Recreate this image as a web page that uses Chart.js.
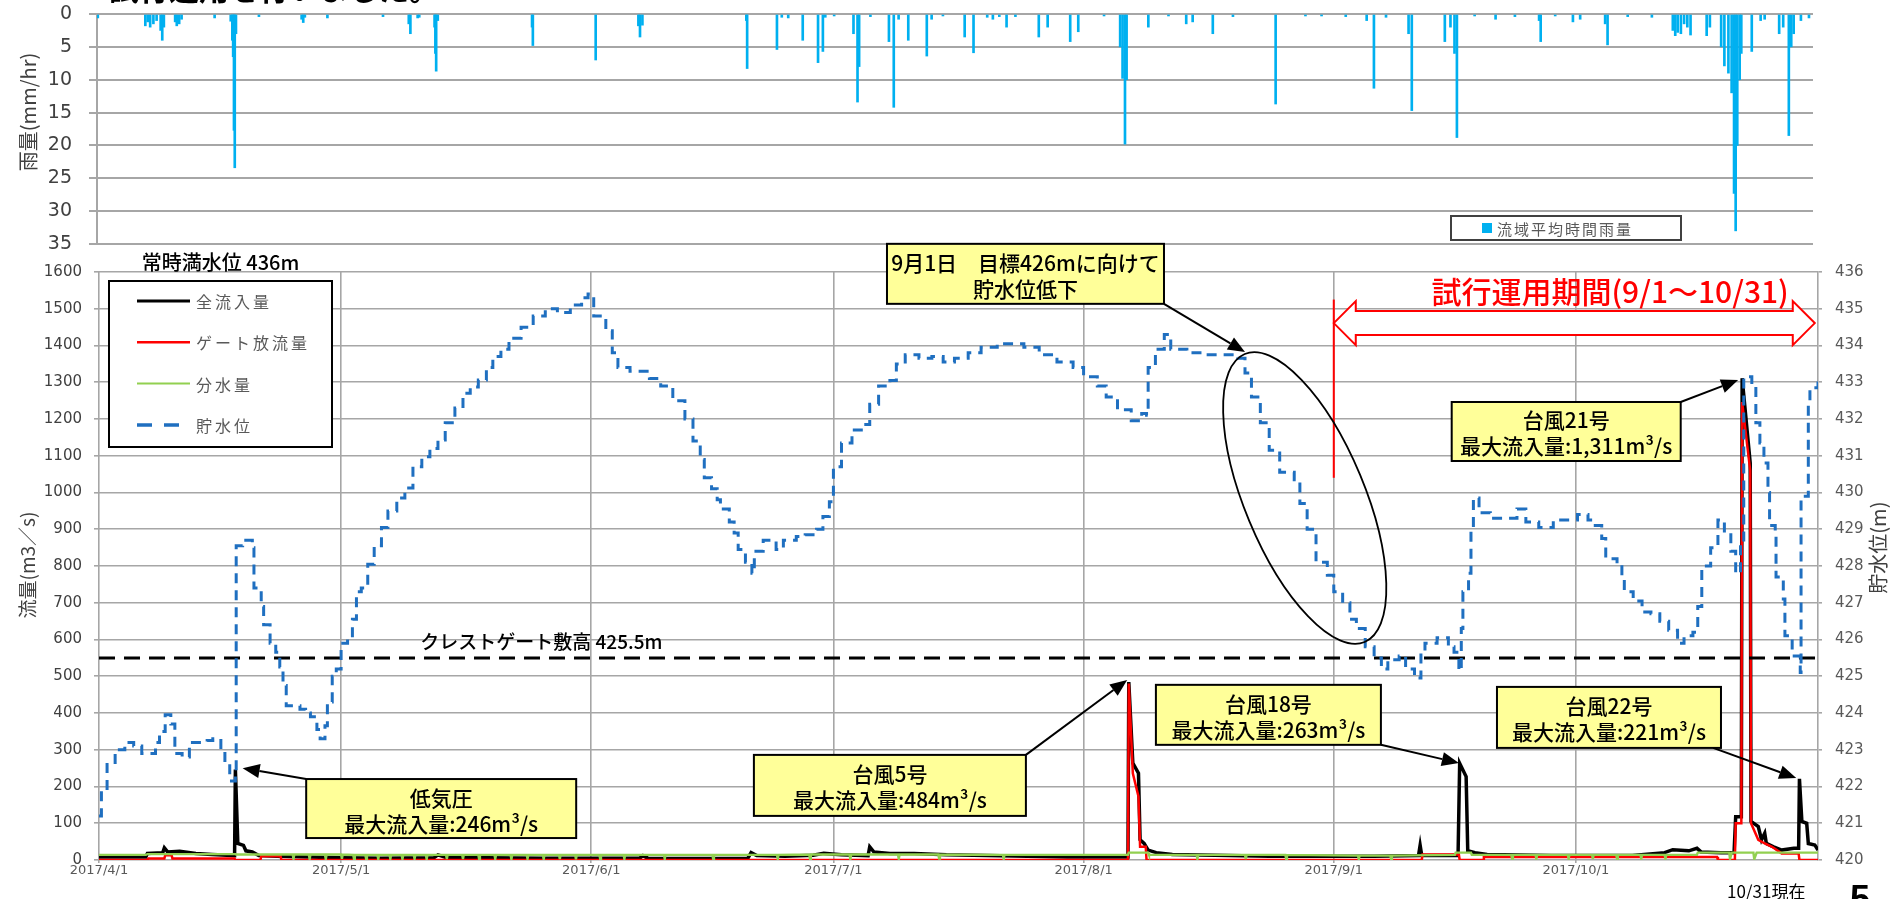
<!DOCTYPE html>
<html lang="ja">
<head>
<meta charset="UTF-8">
<title>流量・貯水位・雨量</title>
<script src="https://cdn.jsdelivr.net/npm/chart.js"></script>
<style>
    html, body { margin: 0; padding: 0; background: #fff; width: 1901px; height: 899px; overflow: hidden; }
    #rain { position: absolute; left: 0; top: 0; }
    #flow { position: absolute; left: 0; top: 200px; }
</style>
</head>
<body>
<canvas id="rain" width="1901" height="262"></canvas>
<canvas id="flow" width="1901" height="699"></canvas>
<script>
// x = days since 2017/4/1 (0) up to 2017/10/31 (213)
const monthDays = [0, 30, 61, 91, 122, 153, 183];
const monthLabels = ['2017/4/1', '2017/5/1', '2017/6/1', '2017/7/1', '2017/8/1', '2017/9/1', '2017/10/1'];
const lastDay = 213;

// 流域平均時間雨量 (mm/hr)
const rainDays = [0.1, 6.0, 6.3, 6.6, 7.0, 7.4, 7.9, 8.1, 8.3, 9.7, 9.9, 10.2, 10.5, 14.6,
    16.6, 16.8, 16.9, 17.0, 17.1, 17.25, 20.1, 25.4, 25.6, 25.8, 28.6, 35.5, 38.7, 38.9, 39.8, 40.0,
    41.9, 42.0, 42.1, 42.3, 54.0, 54.1, 61.9, 67.2, 67.4, 67.7, 80.6, 80.7, 84.4, 85.0, 85.8, 87.6,
    89.5, 90.1, 90.4, 91.5, 93.9, 94.4, 94.6, 96.0, 98.3, 98.9, 99.5, 100.7, 103.0, 103.6, 105.0,
    107.7, 108.8, 110.5, 111.2, 112.0, 112.9, 114.0, 116.9, 118.0, 120.8, 121.8, 125.0,
    127.0, 127.3, 127.6, 127.8, 130.5, 133.0, 135.2, 136.0, 138.5, 141.0, 146.3, 150.0, 152.0, 155.0,
    157.6, 158.5, 160.0, 162.8, 163.2, 167.3, 168.0, 168.5, 168.8, 171.0, 173.6, 176.0, 179.0, 179.2,
    181.0, 183.2, 184.1, 187.2, 187.5, 190.0, 193.0, 195.6, 195.9, 196.2, 196.6, 197.0, 197.4, 197.8,
    199.8, 200.2, 201.6, 202.0, 202.5, 202.9, 203.2, 203.4, 203.6, 203.9, 204.1, 205.4, 206.5, 207.0,
    208.8, 209.3, 210.0, 210.3, 210.6, 211.5, 212.5];
const rainMm = [0.6, 1.8, 1.2, 2.0, 1.5, 1.0, 2.5, 4.0, 2.0, 1.2, 1.8, 1.5, 0.8, 0.6,
    1.1, 4.0, 6.5, 17.7, 23.4, 3.0, 0.4, 0.8, 1.3, 0.5, 0.6, 0.4, 1.5, 3.0, 0.6, 0.5,
    2.0, 6.0, 8.7, 1.0, 2.0, 4.8, 7.0, 1.8, 3.5, 1.7, 1.0, 8.3, 5.4, 0.5, 0.6, 4.0,
    7.4, 5.7, 0.5, 0.3, 3.0, 13.4, 8.0, 0.4, 4.2, 14.2, 0.8, 4.0, 6.4, 0.8, 0.3,
    3.5, 5.9, 0.5, 0.8, 0.4, 2.0, 0.4, 3.5, 2.0, 4.2, 2.7, 0.3,
    5.0, 9.8, 19.8, 10.0, 2.0, 0.3, 1.5, 1.2, 3.0, 0.4, 13.7, 0.3, 0.3, 0.4,
    1.0, 11.3, 0.5, 3.0, 14.7, 4.2, 2.0, 6.0, 18.8, 0.3, 0.8, 0.4, 1.0, 4.2,
    0.3, 1.2, 0.8, 1.5, 4.7, 0.4, 0.5, 2.5, 3.3, 2.8, 3.0, 1.5, 2.0, 3.2,
    3.3, 2.0, 5.0, 7.9, 9.0, 12.0, 27.3, 33.0, 20.0, 10.0, 6.0, 5.7, 1.0, 0.8,
    3.0, 2.0, 18.5, 5.0, 3.0, 1.0, 0.6];

// 全流入量 (m3/s)
const inflowDays = [0, 5.8, 6.0, 7.9, 8.1, 8.5, 10.0, 12.0, 14.0, 16.8, 16.9, 17.2, 17.9, 18.2, 19.0, 19.8,
    22.0, 26.0, 30.0, 35.0, 41.5, 42.0, 43.0, 48.0, 55.0, 67.0, 67.4, 68.0, 75.0, 80.4, 80.8, 81.5,
    85.0, 88.5, 89.8, 92.0, 95.3, 95.5, 96.0, 98.0, 101.0, 105.0, 110.0, 115.0, 120.0, 127.5,
    127.6, 128.1, 128.8, 129.0, 129.5, 130.0, 131.0, 133.0, 140.0, 145.0, 153.0, 158.0, 163.5, 163.7,
    163.9, 168.4, 168.6, 169.4, 169.6, 170.5, 172.0, 180.0, 190.0, 194.0, 195.0, 197.0, 198.0, 198.5,
    201.0, 202.6, 202.8, 203.5, 203.6, 204.6, 204.7, 205.6, 206.0, 206.4, 206.6, 207.5, 208.5, 210.0,
    210.6, 210.7, 211.0, 211.6, 211.8, 212.6, 213.0];
const inflowValues = [8, 8, 18, 20, 33, 22, 24, 18, 15, 12, 246, 45, 40, 25, 22, 12,
    10, 8, 6, 5, 6, 14, 7, 6, 5, 5, 12, 5, 4, 5, 20, 12,
    10, 13, 18, 14, 12, 36, 22, 18, 18, 14, 12, 10, 8, 8,
    484, 264, 236, 55, 45, 27, 20, 15, 12, 10, 10, 10, 12, 40,
    12, 12, 263, 227, 25, 20, 15, 12, 12, 20, 28, 25, 32, 22,
    20, 20, 118, 118, 1311, 1080, 105, 91, 55, 73, 45, 36, 27, 32,
    32, 221, 105, 100, 45, 41, 27];

// ゲート放流量 (m3/s)
const releaseDays = [0, 6.0, 6.1, 8.1, 8.2, 9.0, 9.1, 16.8, 16.9, 20.0, 20.1, 22.5, 22.6, 127.5,
    127.6, 128.1, 128.8, 129.0, 129.7, 129.8, 163.9, 164.0, 168.5, 168.6, 171.5, 171.6, 200.5, 200.6,
    202.7, 202.8, 203.5, 203.6, 204.6, 204.7, 205.6, 206.4, 207.3, 208.5, 210.6, 210.7, 213.0];
const releaseValues = [0, 0, 4, 4, 13, 13, 4, 4, 0, 0, 10, 10, 0, 0,
    480, 236, 173, 36, 36, 0, 0, 15, 15, 0, 0, 8, 8, 0,
    0, 100, 100, 1246, 1060, 100, 55, 45, 36, 18, 18, 0, 0];

// 分水量 (m3/s)
const diversionDays = [0, 5.8, 6.0, 16.9, 17.0, 24.0, 24.1, 24.2, 26.0, 26.1, 26.2, 28.0, 28.1, 28.2,
    30.0, 30.1, 30.2, 31.5, 31.6, 31.7, 33.0, 33.1, 33.2, 34.5, 34.6, 34.7, 36.0, 36.1, 36.2,
    37.5, 37.6, 37.7, 39.0, 39.1, 39.2, 40.5, 40.6, 40.7, 43.0, 43.1, 43.2, 45.0, 45.1, 45.2,
    47.0, 47.1, 47.2, 49.0, 49.1, 49.2, 51.0, 51.1, 51.2, 53.0, 53.1, 53.2, 55.0, 55.1, 55.2,
    57.0, 57.1, 57.2, 59.0, 59.1, 59.2, 62.0, 62.1, 62.2, 65.0, 65.1, 65.2, 70.0, 70.1, 70.2,
    76.0, 76.1, 76.2, 84.0, 84.1, 84.2, 88.0, 88.1, 88.2, 93.0, 93.1, 93.2, 99.0, 99.1, 99.2,
    104.0, 104.1, 104.2, 112.0, 112.1, 112.2, 118.0, 127.5, 127.6, 130.0, 130.1, 136.0, 136.1, 136.2,
    142.0, 142.1, 142.2, 147.0, 147.1, 147.2, 156.0, 156.1, 156.2, 160.0, 160.1, 160.2, 168.0, 168.1,
    170.0, 170.1, 175.0, 175.1, 175.2, 178.0, 178.1, 178.2, 182.0, 182.1, 182.2, 185.0, 185.1, 185.2,
    188.0, 188.1, 188.2, 191.0, 191.1, 191.2, 194.0, 194.1, 194.2, 198.0, 198.1, 202.0, 202.1, 202.3,
    205.0, 205.1, 205.4, 213.0];
const diversionValues = [14, 14, 16, 16, 15, 15, 3, 15, 15, 2, 15, 15, 2, 15,
    15, 3, 15, 14, 2, 14, 14, 3, 14, 14, 2, 14, 14, 3, 14,
    14, 2, 14, 14, 3, 14, 14, 2, 14, 14, 3, 14, 14, 3, 14,
    14, 2, 14, 14, 3, 14, 14, 2, 14, 14, 3, 14, 14, 2, 14,
    14, 3, 14, 14, 2, 14, 14, 3, 14, 14, 3, 14, 14, 3, 14,
    14, 3, 14, 14, 3, 14, 15, 3, 15, 15, 2, 15, 15, 3, 15,
    15, 4, 15, 14, 3, 14, 14, 14, 20, 20, 14, 14, 3, 14,
    14, 3, 14, 14, 3, 14, 12, 2, 12, 12, 3, 12, 14, 20,
    20, 14, 14, 3, 14, 14, 3, 14, 14, 3, 14, 14, 3, 14,
    14, 3, 14, 14, 3, 14, 14, 3, 14, 14, 20, 20, 2, 20,
    20, 2, 20, 20];

// 貯水位 (m)
const levelDays = [0.0, 0.3, 1.0, 2.0, 3.2, 4.3, 5.3, 6.1, 7.0, 7.5, 8.2, 8.9, 9.4, 10.3, 11.2, 12.3,
    13.4, 14.1, 15.1, 15.6, 16.2, 16.9, 17.0, 17.8, 19.0, 19.2, 20.1, 20.4, 21.2, 21.9, 22.4, 22.8,
    23.2, 24.9, 25.6, 26.2, 27.0, 27.4, 28.0, 28.3, 28.9, 29.4, 30.0, 30.8, 31.4, 31.9, 32.5, 33.3,
    34.1, 35.0, 35.8, 36.9, 37.9, 38.9, 40.0, 41.0, 42.0, 42.9, 44.1, 45.1, 46.0, 47.0, 48.0, 48.8,
    49.8, 50.8, 52.3, 53.8, 55.3, 56.8, 58.4, 59.8, 60.6, 61.3, 62.8, 63.6, 64.3, 65.8, 68.2, 69.6,
    71.1, 72.6, 73.6, 74.5, 75.0, 75.9, 76.6, 77.0, 78.1, 78.7, 79.2, 80.1, 80.9, 81.2, 82.3, 83.9,
    84.8, 86.4, 87.5, 88.9, 89.7, 90.5, 91.0, 92.0, 93.3, 94.7, 95.5, 96.6, 98.0, 98.8, 99.9, 101.6,
    103.2, 104.6, 106.0, 107.7, 109.3, 111.3, 113.2, 114.6, 116.5, 118.7, 120.7, 122.0, 123.7, 124.8,
    126.2, 127.9, 129.2, 129.8, 130.0, 130.9, 132.0, 132.8, 134.8, 136.7, 138.6, 141.1, 142.0, 142.8,
    143.9, 145.0, 146.3, 148.1, 148.8, 149.7, 150.8, 152.2, 153.0, 154.1, 155.0, 155.8, 156.9, 158.0,
    158.9, 159.7, 161.1, 161.9, 163.0, 163.8, 164.3, 165.8, 167.2, 167.9, 168.5, 168.8, 169.0, 169.7,
    170.0, 170.3, 171.0, 172.4, 174.1, 175.7, 176.8, 178.4, 180.2, 181.8, 183.2, 184.5, 185.4, 186.2,
    186.7, 188.1, 188.7, 189.0, 190.1, 191.2, 192.3, 193.4, 194.5, 195.6, 196.4, 197.5, 198.1, 198.6,
    199.7, 200.6, 201.4, 202.2, 202.8, 203.4, 203.8, 204.8, 205.3, 205.8, 206.3, 206.8, 207.0, 207.7,
    207.8, 208.7, 208.9, 209.8, 210.8, 210.9, 211.8, 212.0, 213.0];
const levelValues = [421.2, 421.9, 422.6, 423.0, 423.2, 423.1, 422.9, 422.9, 423.2, 423.5, 423.95, 423.7,
    422.9, 422.8, 423.2, 423.2, 423.25, 423.3, 422.95, 422.65, 422.15, 422.4, 428.55, 428.7, 428.5, 427.4,
    426.9, 426.4, 425.9, 425.65, 425.25, 424.75, 424.2, 424.1, 424.0, 423.9, 423.55, 423.3, 423.65, 424.3,
    425.0, 425.2, 425.9, 426.05, 426.55, 427.3, 427.4, 428.05, 428.55, 429.05, 429.5, 429.85, 430.12,
    430.7, 430.97, 431.2, 431.43, 431.9, 432.3, 432.7, 432.87, 433.06, 433.4, 433.7,
    433.9, 434.2, 434.5, 434.8, 435.0, 434.9, 435.1, 435.3, 435.4, 434.8, 434.4, 433.8, 433.4, 433.3,
    433.1, 432.9, 432.5, 432.0, 431.4, 430.9, 430.4, 430.1, 429.8, 429.55, 429.2, 428.9, 428.45, 428.1,
    427.8, 428.4, 428.7, 428.45, 428.7, 428.8, 428.85, 429.0, 429.35, 429.75, 430.7, 431.35, 431.7,
    431.85, 432.4, 432.9, 433.05, 433.5, 433.75, 433.65, 433.7, 433.55, 433.65, 433.8, 433.95, 434.05,
    434.05, 433.95, 433.75, 433.55, 433.4, 433.15, 432.9, 432.6, 432.25, 431.95, 432.15, 432.1, 433.4,
    433.9, 434.3, 433.9, 433.8, 433.75, 433.75, 433.65, 433.25, 432.6, 431.9, 431.15, 430.55, 430.35,
    429.7, 429.0, 428.1, 427.75, 427.3, 427.0, 426.55, 426.3, 425.8, 425.5, 425.2, 425.45, 425.55,
    425.2, 424.95, 425.65, 425.9, 426.05, 425.8, 425.65, 425.15, 426.3, 427.3, 427.8, 429.0, 429.85,
    429.45, 429.3, 429.3, 429.55, 429.2, 429.05, 429.25, 429.25, 429.4, 429.25, 429.1, 428.75, 428.2,
    428.05, 427.65, 427.3, 427.05, 426.75, 426.7, 426.5, 426.25, 425.9, 426.1, 426.2, 426.9, 428.0,
    428.5, 429.25, 428.9, 428.4, 427.8, 428.6, 433.15, 432.9, 431.9, 431.35, 430.8, 430.0, 429.1,
    428.9, 427.7, 427.1, 426.1, 425.55, 425.1, 429.9, 432.5, 432.85, 433.1];

const crestLevel = 425.5;

const GRID = '#a6a6a6';
const JP = '"Noto Sans CJK JP", sans-serif';
const NUM = '"DejaVu Sans", sans-serif';

function pairs(xs, ys) {
    return xs.map((x, i) => ({ x: x, y: ys[i] }));
}

// draws text one char at a time with extra spacing (legend look)
function spacedText(ctx, text, x, y, spacing) {
    for (const ch of text) {
        ctx.fillText(ch, x, y);
        x += ctx.measureText(ch).width + spacing;
    }
}

function vText(ctx, text, x, y, font, color) {
    ctx.save();
    ctx.translate(x, y);
    ctx.rotate(-Math.PI / 2);
    ctx.font = font;
    ctx.fillStyle = color;
    ctx.textAlign = 'center';
    ctx.textBaseline = 'middle';
    ctx.fillText(text, 0, 0);
    ctx.restore();
}

function arrow(ctx, x1, y1, x2, y2) {
    const a = Math.atan2(y2 - y1, x2 - x1);
    const head = 17, half = 7;
    const bx = x2 - head * Math.cos(a), by = y2 - head * Math.sin(a);
    ctx.strokeStyle = '#000';
    ctx.fillStyle = '#000';
    ctx.lineWidth = 2;
    ctx.beginPath();
    ctx.moveTo(x1, y1);
    ctx.lineTo(bx, by);
    ctx.stroke();
    ctx.beginPath();
    ctx.moveTo(x2, y2);
    ctx.lineTo(bx + half * Math.sin(a), by - half * Math.cos(a));
    ctx.lineTo(bx - half * Math.sin(a), by + half * Math.cos(a));
    ctx.closePath();
    ctx.fill();
}

const rainDecor = {
    id: 'rainDecor',
    afterDraw(chart) {
        const ctx = chart.ctx;
        ctx.save();
        // heading cut off at the top of the slide
        ctx.font = 'bold 30px ' + JP;
        ctx.fillStyle = '#000';
        ctx.textBaseline = 'alphabetic';
        ctx.textAlign = 'left';
        ctx.fillText('試行運用を行いました。', 109, 0);

        vText(ctx, '雨量(mm/hr)', 28, 112, '20px ' + JP, '#404040');

        // legend
        ctx.fillStyle = '#fff';
        ctx.fillRect(1451, 216, 230, 24);
        ctx.strokeStyle = '#404040';
        ctx.lineWidth = 2;
        ctx.strokeRect(1451, 216, 230, 24);
        ctx.fillStyle = '#00b0f0';
        ctx.fillRect(1482, 223, 10, 10);
        ctx.fillStyle = '#595959';
        ctx.font = '15px ' + JP;
        ctx.textBaseline = 'middle';
        spacedText(ctx, '流域平均時間雨量', 1497, 229, 2);
        ctx.restore();
    }
};

new Chart(document.getElementById('rain'), {
    type: 'bar',
    data: {
        datasets: [{
            label: '流域平均時間雨量',
            data: pairs(rainDays, rainMm),
            backgroundColor: '#00b0f0',
            barThickness: 2
        }]
    },
    options: {
        responsive: false,
        animation: false,
        layout: { padding: { top: 14, bottom: 18, left: 0, right: 88 } },
        scales: {
            x: { type: 'linear', min: 0, max: lastDay, offset: false, display: false },
            y: {
                reverse: true,
                min: 0,
                max: 35,
                ticks: { stepSize: 5, font: { family: NUM, size: 19 }, color: '#404040', padding: 17 },
                grid: { color: GRID, lineWidth: 2, tickLength: 8 },
                border: { color: GRID, width: 2 },
                afterFit: s => { s.width = 97; s.paddingTop = 0; s.paddingBottom = 0; }
            }
        },
        plugins: { legend: { display: false }, tooltip: { enabled: false } }
    },
    plugins: [rainDecor]
});

// callout boxes: centre in (day, m3/s), arrow from a box corner to a point on the data
const callouts = [
    { lines: ['低気圧', '最大流入量:246m³/s'], day: 42.4, value: 140, w: 270, h: 59, corner: [-1, -1], tip: [17.8, 250] },
    { lines: ['台風5号', '最大流入量:484m³/s'], day: 98.0, value: 203, w: 272, h: 61, corner: [1, -1], tip: [127.4, 490] },
    { lines: ['台風18号', '最大流入量:263m³/s'], day: 144.9, value: 395, w: 225, h: 60, corner: [1, 1], tip: [168.5, 264] },
    { lines: ['台風22号', '最大流入量:221m³/s'], day: 187.1, value: 388, w: 224, h: 61, corner: [0.93, 1], tip: [210.3, 223] },
    { lines: ['台風21号', '最大流入量:1,311m³/s'], day: 181.8, value: 1166, w: 229, h: 59, corner: [1, -1], tip: [203.1, 1306] },
    { lines: ['9月1日　目標426mに向けて', '貯水位低下'], day: 114.8, value: 1595, w: 277, h: 60, corner: [1, 1], tip: [142.0, 1382] }
];

const legendItems = [
    { text: '全流入量', color: '#000', width: 3, dash: [] },
    { text: 'ゲート放流量', color: '#ff0000', width: 2.5, dash: [] },
    { text: '分水量', color: '#92d050', width: 2, dash: [] },
    { text: '貯水位', color: '#1f6fc0', width: 3.5, dash: [15, 12] }
];

const flowDecor = {
    id: 'flowDecor',
    afterDraw(chart) {
        const ctx = chart.ctx;
        const sx = chart.scales.x, sy = chart.scales.y, sl = chart.scales.y2;
        const area = chart.chartArea;
        ctx.save();

        // crest text and full-level text
        ctx.fillStyle = '#000';
        ctx.textAlign = 'left';
        ctx.textBaseline = 'middle';
        ctx.font = '500 20px ' + JP;
        ctx.fillText('常時満水位 436m', sx.getPixelForValue(5.3), sl.getPixelForValue(436.25));
        ctx.font = '500 19px ' + JP;
        ctx.fillText('クレストゲート敷高 425.5m', sx.getPixelForValue(39.8), sl.getPixelForValue(425.93));

        // trial period marker
        const x0 = sx.getPixelForValue(153), x1 = sx.getPixelForValue(212.6);
        ctx.strokeStyle = '#ff0000';
        ctx.lineWidth = 2;
        ctx.beginPath();
        ctx.moveTo(x0, sl.getPixelForValue(435.25));
        ctx.lineTo(x0, sl.getPixelForValue(430.4));
        ctx.stroke();
        const yc = sl.getPixelForValue(434.61), hl = 22, hh = 22, sh = 12;
        ctx.beginPath();
        ctx.moveTo(x0, yc);
        ctx.lineTo(x0 + hl, yc - hh);
        ctx.lineTo(x0 + hl, yc - sh);
        ctx.lineTo(x1 - hl, yc - sh);
        ctx.lineTo(x1 - hl, yc - hh);
        ctx.lineTo(x1, yc);
        ctx.lineTo(x1 - hl, yc + hh);
        ctx.lineTo(x1 - hl, yc + sh);
        ctx.lineTo(x0 + hl, yc + sh);
        ctx.lineTo(x0 + hl, yc + hh);
        ctx.closePath();
        ctx.fillStyle = '#fff';
        ctx.fill();
        ctx.stroke();
        ctx.fillStyle = '#ff0000';
        ctx.font = '500 30px ' + JP;
        ctx.fillText('試行運用期間(9/1〜10/31)', sx.getPixelForValue(165.1), sl.getPixelForValue(435.46));

        // ellipse round the drawdown
        ctx.strokeStyle = '#000';
        ctx.lineWidth = 1.8;
        ctx.beginPath();
        ctx.ellipse(sx.getPixelForValue(149.4), sl.getPixelForValue(429.85), 156, 60, 67.4 * Math.PI / 180, 0, Math.PI * 2);
        ctx.stroke();

        // callouts
        for (const c of callouts) {
            const cx = sx.getPixelForValue(c.day), cy = sy.getPixelForValue(c.value);
            const left = cx - c.w / 2, top = cy - c.h / 2;
            arrow(ctx, cx + c.corner[0] * c.w / 2, cy + c.corner[1] * c.h / 2,
                sx.getPixelForValue(c.tip[0]), sy.getPixelForValue(c.tip[1]));
            ctx.fillStyle = '#ffff99';
            ctx.fillRect(left, top, c.w, c.h);
            ctx.strokeStyle = '#000';
            ctx.lineWidth = 2;
            ctx.strokeRect(left, top, c.w, c.h);
            ctx.fillStyle = '#000';
            ctx.font = '500 21px ' + JP;
            ctx.textAlign = 'center';
            ctx.fillText(c.lines[0], cx, cy - 11);
            ctx.fillText(c.lines[1], cx, cy + 15);
        }

        // legend box
        const lx = area.left + 10, ly = area.top + 9;
        ctx.fillStyle = '#fff';
        ctx.fillRect(lx, ly, 223, 166);
        ctx.strokeStyle = '#000';
        ctx.lineWidth = 2;
        ctx.strokeRect(lx, ly, 223, 166);
        ctx.textAlign = 'left';
        ctx.font = '16px ' + JP;
        legendItems.forEach((it, i) => {
            const y = ly + 20 + i * 41.3;
            ctx.strokeStyle = it.color;
            ctx.lineWidth = it.width;
            ctx.setLineDash(it.dash);
            ctx.beginPath();
            ctx.moveTo(lx + 28, y);
            ctx.lineTo(lx + 81, y);
            ctx.stroke();
            ctx.setLineDash([]);
            ctx.fillStyle = '#595959';
            spacedText(ctx, it.text, lx + 87, y + 1, 3);
        });

        // axis titles
        vText(ctx, '流量(m3／s)', 28, sy.getPixelForValue(0) - 295, '19px ' + JP, '#404040');
        vText(ctx, '貯水位(m)', 1878, sl.getPixelForValue(428.5), '20px ' + JP, '#404040');

        ctx.fillStyle = '#000';
        ctx.textAlign = 'left';
        ctx.textBaseline = 'middle';
        ctx.font = '17px ' + JP;
        ctx.fillText('10/31現在', 1727, chart.height - 7);
        ctx.textBaseline = 'top';
        ctx.font = 'bold 36px "Liberation Sans", sans-serif';
        ctx.fillText('5', 1850, chart.height - 16);
        ctx.restore();
    }
};

new Chart(document.getElementById('flow'), {
    type: 'line',
    data: {
        datasets: [
            { label: '貯水位', data: pairs(levelDays, levelValues), yAxisID: 'y2', borderColor: '#1f6fc0', borderWidth: 3, borderDash: [10, 7], stepped: true, pointRadius: 0 },
            { label: 'クレストゲート敷高', data: [{ x: 0, y: crestLevel }, { x: lastDay, y: crestLevel }], yAxisID: 'y2', borderColor: '#000', borderWidth: 3, borderDash: [16, 9], pointRadius: 0 },
            { label: '分水量', data: pairs(diversionDays, diversionValues), yAxisID: 'y', borderColor: '#92d050', borderWidth: 2.4, pointRadius: 0 },
            { label: 'ゲート放流量', data: pairs(releaseDays, releaseValues), yAxisID: 'y', borderColor: '#ff0000', borderWidth: 2.5, pointRadius: 0 },
            { label: '全流入量', data: pairs(inflowDays, inflowValues), yAxisID: 'y', borderColor: '#000', borderWidth: 3.5, pointRadius: 0 }
        ]
    },
    options: {
        responsive: false,
        animation: false,
        layout: { padding: { top: 72, left: 0, right: 0, bottom: 0 } },
        scales: {
            x: {
                type: 'linear',
                min: 0,
                max: lastDay,
                afterBuildTicks: axis => { axis.ticks = monthDays.map(v => ({ value: v })); },
                ticks: {
                    callback: (v, i) => monthLabels[i],
                    font: { family: NUM, size: 13 },
                    color: '#595959',
                    padding: 0,
                    maxRotation: 0,
                    autoSkip: false
                },
                grid: { color: GRID, lineWidth: 1.6, tickLength: 3 },
                border: { display: false },
                afterFit: s => { s.height = 39; }
            },
            y: {
                position: 'left',
                min: 0,
                max: 1600,
                ticks: { stepSize: 100, callback: v => String(v), font: { family: NUM, size: 15 }, color: '#404040', padding: 12 },
                grid: { color: GRID, lineWidth: 1.6, tickLength: 5 },
                border: { display: false },
                afterFit: s => { s.width = 99; }
            },
            y2: {
                position: 'right',
                min: 420,
                max: 436,
                ticks: { stepSize: 1, callback: v => String(v), font: { family: NUM, size: 15 }, color: '#595959', padding: 13 },
                grid: { drawOnChartArea: false, color: GRID, lineWidth: 1.6, tickLength: 4 },
                border: { color: GRID, width: 1.6 },
                afterFit: s => { s.width = 83; }
            }
        },
        plugins: { legend: { display: false }, tooltip: { enabled: false } }
    },
    plugins: [flowDecor]
});
</script>
</body>
</html>
